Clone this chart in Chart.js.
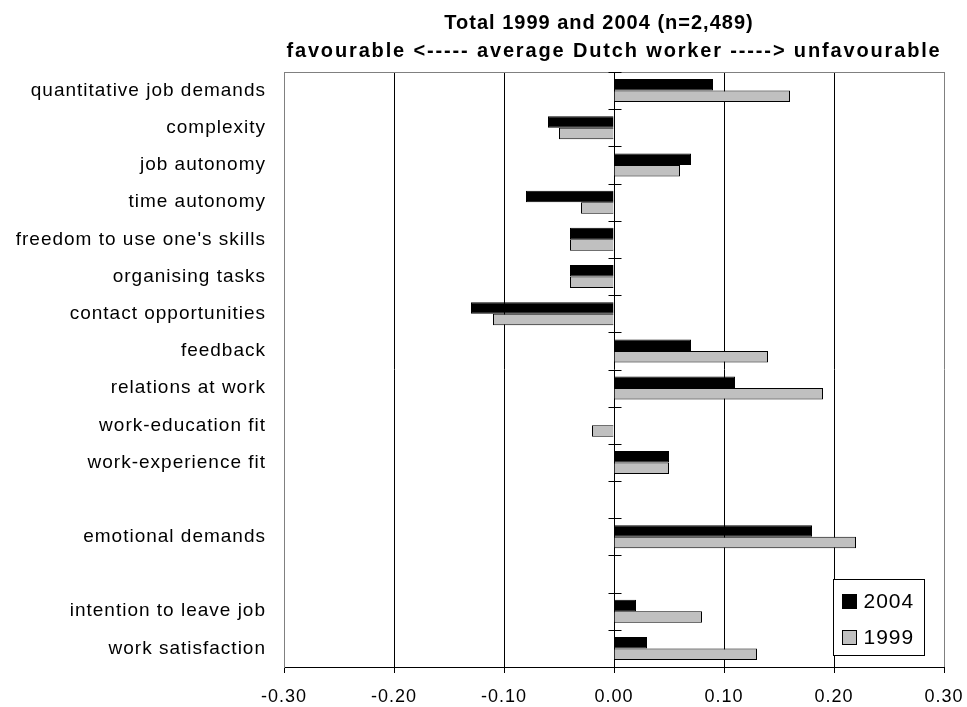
<!DOCTYPE html>
<html>
<head>
<meta charset="utf-8">
<script src="https://cdn.jsdelivr.net/npm/chart.js@4"></script>
<style>
  html, body { margin: 0; padding: 0; background: #fff; }
  #wrap { width: 967px; height: 707px; }
</style>
</head>
<body>
<div id="wrap"><canvas id="grafico"></canvas></div>
<script>
// Dados //
const categorias = ["quantitative job demands", "complexity", "job autonomy", "time autonomy",
  "freedom to use one's skills", "organising tasks", "contact opportunities", "feedback",
  "relations at work", "work-education fit", "work-experience fit", "",
  "emotional demands", "", "intention to leave job", "work satisfaction"];
const valores2004 = [0.09, -0.06, 0.07, -0.08, -0.04, -0.04, -0.13, 0.07, 0.11, 0, 0.05, null, 0.18, null, 0.02, 0.03];
const valores1999 = [0.16, -0.05, 0.06, -0.03, -0.04, -0.04, -0.11, 0.14, 0.19, -0.02, 0.05, null, 0.22, null, 0.08, 0.13];
const ticksX = [-0.3, -0.2, -0.1, 0, 0.1, 0.2, 0.3];
const titulo = ["Total 1999 and 2004 (n=2,489)", "favourable <----- average Dutch worker -----> unfavourable"];

const fonte = "'Liberation Sans', Arial, sans-serif";

// Plugin: titulo, marcas na linha do zero, legenda //
const extras = {
  id: "extras",
  beforeUpdate(chart) { chart.ctx.letterSpacing = "1px"; },
  beforeDraw(chart) { chart.ctx.letterSpacing = "1px"; },
  afterDraw(chart) {
    const { ctx, chartArea: a, scales: { x, y } } = chart;
    ctx.save();

    // borda de cima
    ctx.strokeStyle = "#808080";
    ctx.lineWidth = 1;
    ctx.beginPath();
    ctx.moveTo(a.left, a.top + 0.5);
    ctx.lineTo(a.right, a.top + 0.5);
    ctx.stroke();

    // marcas no eixo do zero
    const x0 = Math.round(x.getPixelForValue(0)) + 0.5;
    ctx.strokeStyle = "#000";
    ctx.beginPath();
    for (let i = 0; i <= categorias.length; i++) {
      const yb = Math.round(y.getPixelForValue(i - 0.5)) + 0.5;
      ctx.moveTo(x0 - 6, yb);
      ctx.lineTo(x0 + 7, yb);
    }
    ctx.stroke();

    // titulo
    ctx.fillStyle = "#000";
    ctx.textAlign = "center";
    ctx.textBaseline = "alphabetic";
    ctx.font = "bold 20px " + fonte;
    const cx = (a.left + a.right) / 2;
    ctx.letterSpacing = "1px";
    ctx.fillText(titulo[0], cx - 15, 29);
    ctx.letterSpacing = "1.85px";
    ctx.fillText(titulo[1], cx, 57);

    // legenda
    const lw = 91, lh = 76;
    const lx = Math.round(a.right - 20 - lw) + 0.5;
    const ly = Math.round(a.bottom - 12 - lh) + 0.5;
    ctx.fillStyle = "#fff";
    ctx.fillRect(lx, ly, lw, lh);
    ctx.strokeStyle = "#000";
    ctx.strokeRect(lx, ly, lw, lh);
    ctx.font = "21px " + fonte;
    ctx.letterSpacing = "1px";
    ctx.textAlign = "left";
    ctx.textBaseline = "middle";
    chart.data.datasets.forEach((ds, i) => {
      const cy = ly + 22 + i * 36;
      ctx.fillStyle = ds.backgroundColor;
      ctx.fillRect(lx + 9, cy - 7, 14, 14);
      ctx.strokeStyle = "#000";
      ctx.strokeRect(lx + 9, cy - 7, 14, 14);
      ctx.fillStyle = "#000";
      ctx.fillText(ds.label, lx + 30, cy + 1);
    });
    ctx.restore();
  }
};

new Chart(document.getElementById("grafico"), {
  type: "bar",
  data: {
    labels: categorias,
    datasets: [
      { label: "2004", data: valores2004, backgroundColor: "#000000", borderColor: "#000", borderWidth: 1 },
      { label: "1999", data: valores1999, backgroundColor: "#c0c0c0", borderColor: "#000", borderWidth: 1 }
    ]
  },
  plugins: [extras],
  options: {
    indexAxis: "y",
    responsive: true,
    maintainAspectRatio: false,
    animation: false,
    layout: { padding: { top: 72, right: 23, left: 0, bottom: 0 } },
    datasets: { bar: { categoryPercentage: 0.62, barPercentage: 1 } },
    plugins: {
      legend: { display: false },
      title: { display: false },
      tooltip: { enabled: false }
    },
    scales: {
      x: {
        min: -0.3,
        max: 0.3,
        afterBuildTicks: s => { s.ticks = ticksX.map(v => ({ value: v })); },
        afterFit: s => { s.height = 40; s.paddingLeft = 0; s.paddingRight = 0; },
        ticks: {
          color: "#000",
          font: { family: fonte, size: 18 },
          padding: 13,
          maxRotation: 0,
          callback: v => v.toFixed(2)
        },
        grid: {
          color: c => (c.tick && Math.abs(c.tick.value) > 0.29 ? "#808080" : "#000"),
          tickColor: "#000",
          tickLength: 6,
          lineWidth: 1
        },
        border: { color: "#000", width: 1 }
      },
      y: {
        afterFit: s => { s.width = 284; },
        ticks: {
          color: "#000",
          font: { family: fonte, size: 19 },
          padding: 10,
          autoSkip: false
        },
        grid: { display: false },
        border: { color: "#808080", width: 1 }
      }
    }
  }
});
</script>
</body>
</html>
